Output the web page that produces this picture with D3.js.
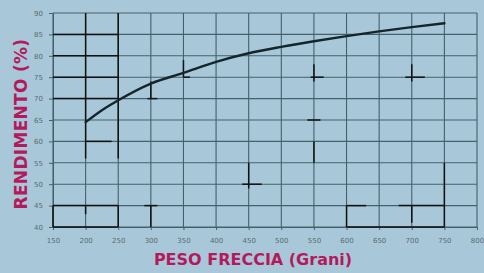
<!DOCTYPE html>
<html>
<head>
<meta charset="utf-8">
<script src="https://cdn.jsdelivr.net/npm/d3@7"></script>
<style>
	html, body { margin: 0; padding: 0; background: #a8c8da; }
	svg { display: block; }
</style>
</head>
<body>
<div id="chart"></div>
<script>
// arrow weight (grains) and efficiency (%)
const pesoFreccia = [200, 225, 250, 300, 350, 400, 450, 500, 550, 600, 650, 700, 750];
const rendimento = [64.5, 67.3, 69.6, 73.5, 76.0, 78.6, 80.6, 82.1, 83.4, 84.6, 85.7, 86.7, 87.6];

const xTicks = [150, 200, 250, 300, 350, 400, 450, 500, 550, 600, 650, 700, 750, 800];
const yTicks = [40, 45, 50, 55, 60, 65, 70, 75, 80, 85, 90];

// black pen marks over the printed grid, in data units [x1, y1, x2, y2]
const penMarks = [
	[150, 85, 250, 85], [150, 80, 250, 80], [150, 75, 250, 75], [150, 70, 250, 70],
	[200, 56, 200, 90], [250, 56, 250, 90], [200, 60, 240, 60],
	[150, 45, 250, 45], [150, 40, 250, 40], [150, 40, 150, 45], [250, 40, 250, 45], [200, 43, 200, 45],
	[300, 70, 300, 74], [295, 70, 310, 70], [350, 75, 350, 79], [350, 75, 360, 75],
	[550, 74, 550, 78], [545, 75, 565, 75], [700, 74, 700, 78], [690, 75, 720, 75],
	[450, 49, 450, 55], [550, 55, 550, 60], [540, 65, 560, 65], [300, 40, 300, 45], [290, 45, 310, 45],
	[600, 45, 630, 45], [600, 40, 600, 45], [680, 45, 750, 45], [750, 45, 750, 55], [750, 40, 750, 45], [600, 40, 750, 40],
	[700, 41, 700, 45], [440, 50, 470, 50]
];

const WIDTH = 484;
const HEIGHT = 273;
const margins = { L: 53, R: 7, T: 13, B: 46 };

const svg = d3.select('#chart').append('svg')
	.attr('width', WIDTH)
	.attr('height', HEIGHT);

const innerW = WIDTH - margins.L - margins.R;
const innerH = HEIGHT - margins.T - margins.B;

const x = d3.scaleLinear().domain([150, 800]).range([0, innerW]);
const y = d3.scaleLinear().domain([40, 90]).range([innerH, 0]);

const g = svg.append('g')
	.attr('transform', 'translate(' + margins.L + ',' + margins.T + ')');

// grid
g.append('g')
	.selectAll('line')
	.data(xTicks)
	.join('line')
		.attr('x1', d => x(d)).attr('x2', d => x(d))
		.attr('y1', 0).attr('y2', innerH)
		.attr('stroke', '#44606b')
		.attr('stroke-width', 1.1);

g.append('g')
	.selectAll('line')
	.data(yTicks)
	.join('line')
		.attr('x1', 0).attr('x2', innerW)
		.attr('y1', d => y(d)).attr('y2', d => y(d))
		.attr('stroke', '#44606b')
		.attr('stroke-width', 1.1);

// axes (labels only, gray and small like the print)
const xAxis = d3.axisBottom(x).tickValues(xTicks).tickSize(3).tickPadding(8);
const yAxis = d3.axisLeft(y).tickValues(yTicks).tickSize(4).tickPadding(6);

g.append('g')
	.attr('transform', 'translate(0,' + innerH + ')')
	.call(xAxis)
	.call(a => a.select('.domain').attr('stroke', '#44606b'))
	.call(a => a.selectAll('.tick line').attr('stroke', '#44606b'))
	.call(a => a.selectAll('text')
		.attr('fill', '#5a6a70')
		.style('font', '7px "DejaVu Sans"'));

g.append('g')
	.call(yAxis)
	.call(a => a.select('.domain').attr('stroke', '#44606b'))
	.call(a => a.selectAll('.tick line').attr('stroke', '#44606b'))
	.call(a => a.selectAll('text')
		.attr('fill', '#5a6a70')
		.style('font', '7px "DejaVu Sans"'));

// pen marks
g.append('g')
	.selectAll('line')
	.data(penMarks)
	.join('line')
		.attr('x1', d => x(d[0])).attr('y1', d => y(d[1]))
		.attr('x2', d => x(d[2])).attr('y2', d => y(d[3]))
		.attr('stroke', '#111')
		.attr('stroke-width', 1.5);

// efficiency curve
const line = d3.line()
	.x(d => x(d[0]))
	.y(d => y(d[1]))
	.curve(d3.curveMonotoneX);

g.append('path')
	.datum(d3.zip(pesoFreccia, rendimento))
	.attr('d', line)
	.attr('fill', 'none')
	.attr('stroke', '#16252b')
	.attr('stroke-width', 2.4)
	.attr('stroke-linecap', 'round');

// titles
svg.append('text')
	.attr('transform', 'translate(27,' + (margins.T + innerH / 2 + 4) + ') rotate(-90)')
	.attr('text-anchor', 'middle')
	.attr('fill', '#b31a5c')
	.style('font', 'bold 17px "DejaVu Sans"')
	.style('letter-spacing', '0.3px')
	.text('RENDIMENTO (%)');

svg.append('text')
	.attr('x', 253)
	.attr('y', 265)
	.attr('text-anchor', 'middle')
	.attr('fill', '#b31a5c')
	.style('font', 'bold 16px "DejaVu Sans"')
	.text('PESO FRECCIA (Grani)');
</script>
</body>
</html>
